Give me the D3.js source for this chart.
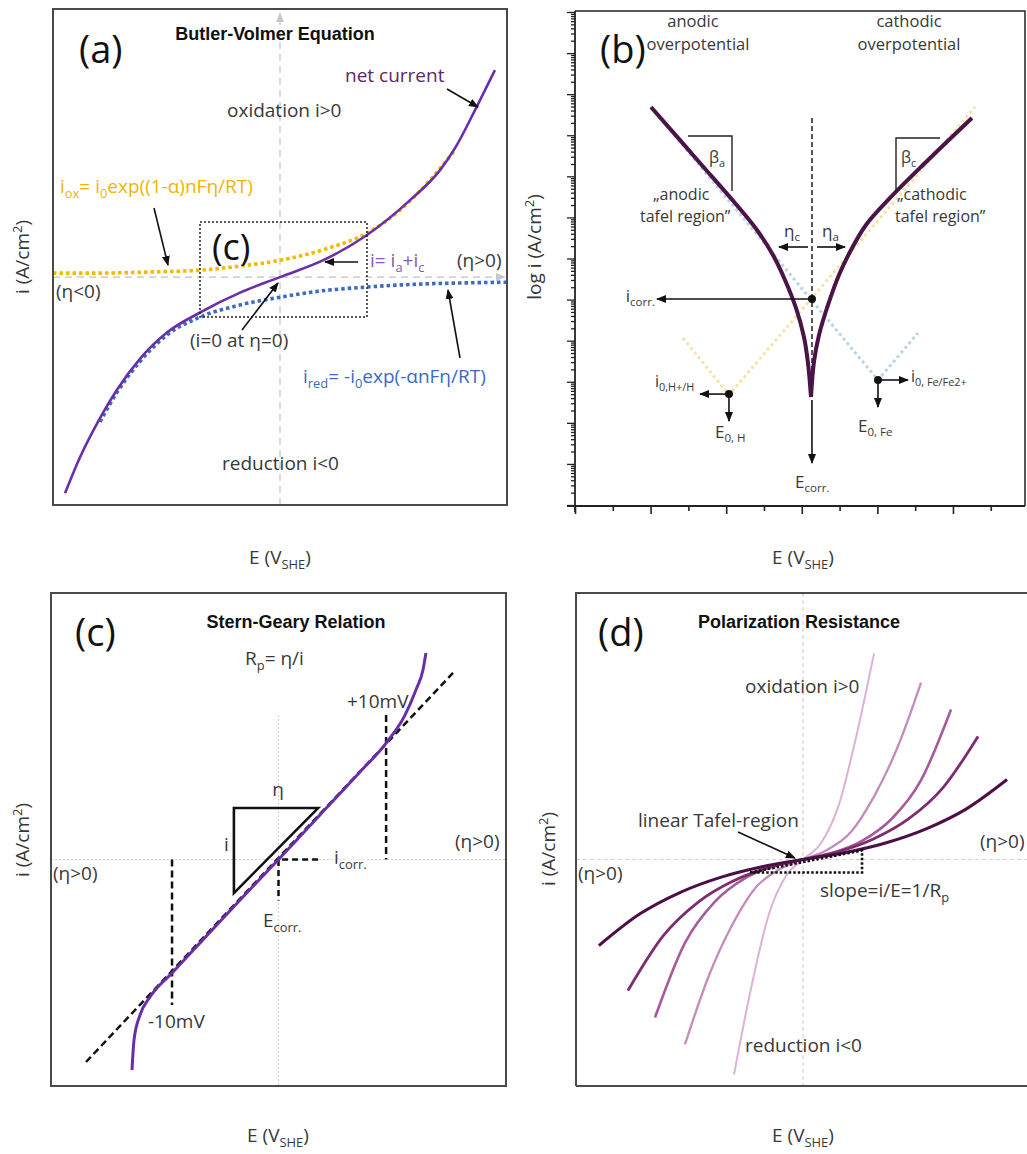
<!DOCTYPE html>
<html><head><meta charset="utf-8">
<script src="https://cdn.jsdelivr.net/npm/d3@7"></script>
<style>
body{margin:0;background:#fff;}
svg text{font-family:"Open Sans","Noto Sans",sans-serif;}
</style></head><body>
<svg id="fig" width="1027" height="1154"></svg>
<script>
// ================= DATA =================
// (a) Butler-Volmer: normalised overpotential E and current i
const aNetE = [-0.947,-0.881,-0.802,-0.718,-0.617,-0.498,-0.352,-0.176,0,0.198,0.383,0.573,0.705,0.771,0.868,0.947];
const aNetI = [-0.806,-0.672,-0.540,-0.420,-0.305,-0.207,-0.132,-0.058,0,0.066,0.157,0.287,0.399,0.481,0.638,0.772];
const aOxE  = [-1,-0.793,-0.573,-0.352,-0.176,0,0.198,0.383,0.529,0.661,0.771];
const aOxI  = [0.015,0.015,0.019,0.026,0.041,0.063,0.104,0.164,0.250,0.362,0.474];
const aRedE = [1,0.793,0.617,0.383,0.176,0,-0.176,-0.352,-0.498,-0.617,-0.718,-0.793];
const aRedI = [-0.019,-0.022,-0.026,-0.037,-0.052,-0.075,-0.104,-0.149,-0.216,-0.315,-0.430,-0.540];

// (b) Tafel plot: E (axis units) and log10 i
const bAnodicE    = [1.005,1.653,2.116,2.407,2.619,2.778,2.923,3.029,3.082,3.122];
const bAnodicLogI = [-2.311,-3.675,-4.649,-5.306,-5.914,-6.523,-7.204,-7.910,-8.543,-9.371];
const bCathodicE    = [5.251,4.630,4.167,3.849,3.651,3.492,3.347,3.228,3.161,3.122];
const bCathodicLogI = [-2.579,-3.675,-4.527,-5.184,-5.793,-6.401,-7.131,-7.862,-8.519,-9.371];
const bHydrogenE    = [1.429,2.037,5.291];
const bHydrogenLogI = [-7.935,-9.322,-2.311];
const bIronE    = [1.058,4.008,4.537];
const bIronLogI = [-2.433,-8.957,-7.813];
const bPointNames = ["corr","H","Fe"];
const bPointE    = [3.135,2.037,4.008];
const bPointLogI = [-6.985,-9.300,-8.957];
const bAxisLogTop = 0, bAxisLogBottom = -12;

// (c) Stern-Geary
const cCurveE = [-0.644,-0.635,-0.609,-0.565,-0.468,-0.345,-0.169,0,0.182,0.358,0.473,0.556,0.604,0.635,0.648];
const cCurveI = [-0.790,-0.677,-0.584,-0.516,-0.426,-0.313,-0.152,0,0.167,0.328,0.437,0.542,0.636,0.711,0.775];
const cTangentE = [-0.846,0.767];
const cTangentI = [-0.760,0.700];
const cPlusMinus10mV = [0.473,-0.468];

// (d) Polarization resistance: five curves (light -> dark)
const d1E = [-0.304,-0.228,-0.152,-0.076,0,0.078,0.156,0.234,0.313];
const d1I = [-0.807,-0.480,-0.210,-0.063,0,0.060,0.200,0.460,0.773];
const d2E = [-0.520,-0.416,-0.312,-0.208,-0.104,0,0.104,0.208,0.312,0.416,0.520];
const d2I = [-0.694,-0.439,-0.246,-0.105,-0.037,0,0.035,0.100,0.235,0.420,0.664];
const d3E = [-0.652,-0.520,-0.390,-0.260,-0.130,0,0.130,0.260,0.390,0.520,0.652];
const d3I = [-0.593,-0.313,-0.160,-0.073,-0.026,0,0.025,0.070,0.152,0.298,0.563];
const d4E = [-0.771,-0.617,-0.463,-0.308,-0.154,0,0.154,0.308,0.463,0.617,0.771];
const d4I = [-0.492,-0.288,-0.161,-0.081,-0.031,0,0.029,0.076,0.151,0.270,0.462];
const d5E = [-0.899,-0.720,-0.540,-0.360,-0.180,0,0.180,0.360,0.540,0.720,0.899];
const d5I = [-0.323,-0.205,-0.123,-0.066,-0.027,0,0.025,0.061,0.114,0.190,0.300];
const dColors = ["#dcb2d6","#c58bbb","#a65c9b","#7d2c70","#4c0f44"];
const dWidths = [2,2.3,2.6,2.8,3];

// ================= DRAWING =================
const svg = d3.select("#fig");
const defs = svg.append("defs");
function marker(id, color, size){
  defs.append("marker").attr("id",id).attr("viewBox","0 0 10 10").attr("refX",9).attr("refY",5)
    .attr("markerWidth",size).attr("markerHeight",size).attr("markerUnits","userSpaceOnUse").attr("orient","auto")
    .append("path").attr("d","M0,1 L10,5 L0,9 z").attr("fill",color);
}
marker("ah","#111",10); marker("ahG","#c8c8c8",10);
const zip = (xs,ys)=>xs.map((x,i)=>[x,ys[i]]).sort((p,q)=>p[0]-q[0]);
const TXT = "#383838";

function rich(g, x, y, parts, o={}){
  const fs = o.size||19;
  const t = g.append("text").attr("x",x).attr("y",y).attr("font-size",fs)
    .attr("fill",o.color||TXT).attr("text-anchor",o.anchor||"start");
  if(o.weight) t.attr("font-weight",o.weight);
  if(o.rotate) t.attr("transform",`rotate(${o.rotate},${x},${y})`);
  if(o.halo) t.attr("stroke","#fff").attr("stroke-width",5).attr("paint-order","stroke");
  let shift=0;
  parts.forEach(p=>{
    const [s,k] = typeof p==="string"?[p,null]:p;
    const target = k==="sub"? fs*0.26 : k==="sup"? -fs*0.38 : 0;
    const ts = t.append("tspan").text(s).attr("dy", target-shift);
    if(k) ts.attr("font-size", fs*0.68);
    shift = target;
  });
  return t;
}
function arrow(g,x1,y1,x2,y2,w=1.6,color="#111",m="ah"){
  g.append("line").attr("x1",x1).attr("y1",y1).attr("x2",x2).attr("y2",y2)
   .attr("stroke",color).attr("stroke-width",w).attr("marker-end",`url(#${m})`);
}
const title = (g,x,y,s)=>g.append("text").attr("x",x).attr("y",y).attr("text-anchor","middle")
  .attr("font-size",18).attr("font-weight","bold").style("font-family","'Liberation Sans',Arial,sans-serif").attr("fill","#111").text(s);
const panelLabel = (g,x,y,s)=>g.append("text").attr("x",x).attr("y",y).attr("font-size",38).attr("fill","#111").text(s);

// ---------------- Panel (a) ----------------
{
  const g = svg.append("g");
  const x = d3.scaleLinear().domain([-1,1]).range([53,507]);
  const y = d3.scaleLinear().domain([-0.85,1]).range([505,9]);
  const line = d3.line().x(d=>x(d[0])).y(d=>y(d[1])).curve(d3.curveMonotoneX);
  g.append("line").attr("x1",x(0)).attr("x2",x(0)).attr("y1",505).attr("y2",13)
    .attr("stroke","#d2d2d2").attr("stroke-width",1.6).attr("stroke-dasharray","7,5").attr("marker-end","url(#ahG)");
  g.append("line").attr("x1",53).attr("x2",505).attr("y1",y(0)).attr("y2",y(0))
    .attr("stroke","#d2d2d2").attr("stroke-width",1.6).attr("stroke-dasharray","7,5").attr("marker-end","url(#ahG)");
  g.append("path").attr("d",line(zip(aOxE,aOxI))).attr("fill","none").attr("stroke","#f3ba00").attr("stroke-width",3.6).attr("stroke-dasharray","3.5,3");
  g.append("path").attr("d",line(zip(aRedE,aRedI))).attr("fill","none").attr("stroke","#3c6cc2").attr("stroke-width",3.6).attr("stroke-dasharray","3.5,3");
  g.append("path").attr("d",line(zip(aNetE,aNetI))).attr("fill","none").attr("stroke","#6a2ea8").attr("stroke-width",2.6);
  g.append("rect").attr("x",200).attr("y",222).attr("width",167).attr("height",95).attr("fill","none")
    .attr("stroke","#222").attr("stroke-width",1.5).attr("stroke-dasharray","2,2");
  g.append("rect").attr("x",53).attr("y",9).attr("width",454).attr("height",496).attr("fill","none").attr("stroke","#4a4a4a").attr("stroke-width",2);
  panelLabel(g,79,63,"(a)");
  title(g,275,40,"Butler-Volmer Equation");
  rich(g,345,82,["net current"],{color:"#5b2a66"});
  arrow(g,447,89,478,107);
  rich(g,227,117,["oxidation i>0"]);
  rich(g,60,193,["i",["ox","sub"],"= i",["0","sub"],"exp((1-α)nFη/RT)"],{color:"#f0b400"});
  arrow(g,154,208,168,265);
  rich(g,212,260,["(c)"],{size:36,color:"#111"});
  rich(g,370,267,["i= i",["a","sub"],"+i",["c","sub"]],{color:"#8a58b4"});
  arrow(g,358,262,325,262);
  rich(g,457,267,["(η>0)"]);
  rich(g,56,298,["(η<0)"]);
  rich(g,190,347,["(i=0 at η=0)"]);
  arrow(g,242,330,278,283);
  rich(g,303,383,["i",["red","sub"],"= -i",["0","sub"],"exp(-αnFη/RT)"],{color:"#3b6bc0"});
  arrow(g,460,358,448,290);
  rich(g,222,470,["reduction i<0"]);
  rich(g,29,257,["i (A/cm",["2","sup"],")"],{anchor:"middle",rotate:-90});
  rich(g,280,564,["E (V",["SHE","sub"],")"],{anchor:"middle"});
}

// ---------------- Panel (b) ----------------
{
  const g = svg.append("g");
  const x = d3.scaleLinear().domain([0,5.9]).range([575,1021]);
  const y = d3.scaleLog().domain([Math.pow(10,bAxisLogBottom),Math.pow(10,bAxisLogTop)]).range([505,12]);
  const lineS = d3.line().x(d=>x(d[0])).y(d=>y(Math.pow(10,d[1])));
  const lineC = d3.line().x(d=>x(d[0])).y(d=>y(Math.pow(10,d[1]))).curve(d3.curveCatmullRom);
  const pairs = (xs,ys)=>xs.map((v,i)=>[v,ys[i]]);
  g.append("path").attr("d","M575,11 H1025 V506").attr("fill","none").attr("stroke","#222").attr("stroke-width",1.5);
  const yt = y.ticks(20);
  const isMajor = t=>Math.abs(Math.log10(t)-Math.round(Math.log10(t)))<1e-6;
  const ya = g.append("g").attr("transform","translate(575,0)").call(d3.axisLeft(y).tickValues(yt).tickFormat(""));
  ya.select(".domain").remove();
  ya.selectAll(".tick line").attr("x2",d=>isMajor(d)?-8:-4).attr("stroke","#222").attr("stroke-width",1.3);
  const xt = d3.range(0,5.75,0.5);
  const xa = g.append("g").attr("transform","translate(0,506)").call(d3.axisBottom(x).tickValues(xt).tickFormat(""));
  xa.select(".domain").remove();
  xa.selectAll(".tick line").attr("y2",d=>Math.abs(d-Math.round(d))<1e-6?8:5).attr("stroke","#222").attr("stroke-width",1.6);
  g.append("line").attr("x1",575).attr("x2",575).attr("y1",11).attr("y2",512).attr("stroke","#222").attr("stroke-width",1.8);
  g.append("line").attr("x1",567).attr("x2",1025).attr("y1",506).attr("y2",506).attr("stroke","#222").attr("stroke-width",1.8);
  g.append("path").attr("d",lineS(pairs(bHydrogenE,bHydrogenLogI))).attr("fill","none").attr("stroke","#f6e4a6").attr("stroke-width",3).attr("stroke-dasharray","3,3");
  g.append("path").attr("d",lineS(pairs(bIronE,bIronLogI))).attr("fill","none").attr("stroke","#bcd4ea").attr("stroke-width",3).attr("stroke-dasharray","3,3");
  const xc = x(bPointE[0]);
  const cuspY = y(Math.pow(10,bAnodicLogI[bAnodicLogI.length-1]));
  g.append("line").attr("x1",xc).attr("x2",xc).attr("y1",y(Math.pow(10,bCathodicLogI[0]))).attr("y2",cuspY)
    .attr("stroke","#111").attr("stroke-width",1.4).attr("stroke-dasharray","5,3");
  g.append("path").attr("d",lineC(pairs(bAnodicE,bAnodicLogI))).attr("fill","none").attr("stroke","#4a1446").attr("stroke-width",4);
  g.append("path").attr("d",lineC(pairs(bCathodicE,bCathodicLogI))).attr("fill","none").attr("stroke","#4a1446").attr("stroke-width",4);
  arrow(g,xc,cuspY+3,xc,463,1.6);
  const P = bPointE.map((e,i)=>({n:bPointNames[i],x:x(e),y:y(Math.pow(10,bPointLogI[i]))}));
  arrow(g,P[0].x,P[0].y,657,P[0].y,1.6);
  arrow(g,P[1].x,P[1].y,P[1].x-29,P[1].y,1.6);
  arrow(g,P[1].x,P[1].y,P[1].x,P[1].y+27,1.6);
  arrow(g,P[2].x,P[2].y,P[2].x+30,P[2].y,1.6);
  arrow(g,P[2].x,P[2].y,P[2].x,P[2].y+27,1.6);
  g.selectAll("circle.pt").data(P).join("circle").attr("cx",d=>d.x).attr("cy",d=>d.y).attr("r",4).attr("fill","#111");
  arrow(g,808,247,779,247,1.6); arrow(g,817,247,845,247,1.6);
  rich(g,784,237,["η",["c","sub"]],{size:17});
  rich(g,822,237,["η",["a","sub"]],{size:17});
  g.append("path").attr("d","M688,136 H732 V191").attr("fill","none").attr("stroke","#222").attr("stroke-width",1.4);
  g.append("path").attr("d","M896,192 V138 H940").attr("fill","none").attr("stroke","#222").attr("stroke-width",1.4);
  rich(g,709,163,["β",["a","sub"]],{size:16});
  rich(g,901,163,["β",["c","sub"]],{size:16});
  panelLabel(g,600,63,"(b)");
  rich(g,693,27,["anodic"],{size:16.5,anchor:"middle"});
  rich(g,698,50,["overpotential"],{size:16.5,anchor:"middle"});
  rich(g,909,27,["cathodic"],{size:16.5,anchor:"middle"});
  rich(g,909,50,["overpotential"],{size:16.5,anchor:"middle"});
  rich(g,653,200,["„anodic"],{size:16});
  rich(g,640,222,["tafel region”"],{size:16});
  rich(g,897,200,["„cathodic"],{size:16});
  rich(g,895,222,["tafel region”"],{size:16});
  rich(g,655,302,["i",["corr.","sub"]],{size:17,anchor:"end"});
  rich(g,655,387,["i",["0,H+/H","sub"]],{size:16});
  rich(g,715,438,["E",["0, H","sub"]],{size:17});
  rich(g,911,382,["i",["0, Fe/Fe2+","sub"]],{size:16});
  rich(g,858,432,["E",["0, Fe","sub"]],{size:17});
  rich(g,795,488,["E",["corr.","sub"]],{size:17});
  rich(g,541,247,["log i (A/cm",["2","sup"],")"],{anchor:"middle",rotate:-90});
  rich(g,803,564,["E (V",["SHE","sub"],")"],{anchor:"middle"});
}

// ---------------- Panel (c) ----------------
{
  const g = svg.append("g");
  const x = d3.scaleLinear().domain([-1,1]).range([51,506]);
  const y = d3.scaleLinear().domain([-0.85,1]).range([1086,593]);
  const line = d3.line().x(d=>x(d[0])).y(d=>y(d[1]));
  g.append("line").attr("x1",x(0)).attr("x2",x(0)).attr("y1",715).attr("y2",1086).attr("stroke","#d4d4d4").attr("stroke-width",1.2).attr("stroke-dasharray","2,2");
  g.append("line").attr("x1",51).attr("x2",506).attr("y1",y(0)).attr("y2",y(0)).attr("stroke","#d4d4d4").attr("stroke-width",1.2).attr("stroke-dasharray","2,2");
  g.append("line").attr("x1",x(cPlusMinus10mV[0])).attr("x2",x(cPlusMinus10mV[0])).attr("y1",715).attr("y2",y(0))
    .attr("stroke","#111").attr("stroke-width",2.5).attr("stroke-dasharray","7,4");
  g.append("line").attr("x1",x(cPlusMinus10mV[1])).attr("x2",x(cPlusMinus10mV[1])).attr("y1",y(0)).attr("y2",1005)
    .attr("stroke","#111").attr("stroke-width",2.5).attr("stroke-dasharray","7,4");
  g.append("path").attr("d",line(zip(cTangentE,cTangentI))).attr("stroke","#111").attr("stroke-width",2.5).attr("stroke-dasharray","7,4").attr("fill","none");
  g.append("path").attr("d",`M${x(-0.196)},${y(0.193)} H${x(0.174)} L${x(-0.196)},${y(-0.126)} Z`)
    .attr("fill","none").attr("stroke","#111").attr("stroke-width",2.6);
  g.append("path").attr("d",`M${x(0.174)},${y(0)} H${x(0)} V${y(-0.154)}`).attr("fill","none")
    .attr("stroke","#111").attr("stroke-width",2.5).attr("stroke-dasharray","6,4");
  g.append("path").attr("d",line.curve(d3.curveMonotoneX)(zip(cCurveE,cCurveI))).attr("fill","none").attr("stroke","#6a2ea8").attr("stroke-width",3);
  g.append("rect").attr("x",51).attr("y",593).attr("width",455).attr("height",493).attr("fill","none").attr("stroke","#4a4a4a").attr("stroke-width",2);
  panelLabel(g,75,646,"(c)");
  title(g,296,628,"Stern-Geary Relation");
  rich(g,245,665,["R",["p","sub"],"= η/i"]);
  rich(g,347,708,["+10mV"]);
  rich(g,278,796,["η"],{anchor:"middle"});
  rich(g,224,851,["i"]);
  rich(g,334,864,["i",["corr.","sub"]],{halo:true});
  rich(g,263,927,["E",["corr.","sub"]]);
  rich(g,455,848,["(η>0)"],{halo:true});
  rich(g,53,880,["(η>0)"]);
  rich(g,148,1028,["-10mV"]);
  rich(g,29,840,["i (A/cm",["2","sup"],")"],{anchor:"middle",rotate:-90});
  rich(g,278,1142,["E (V",["SHE","sub"],")"],{anchor:"middle"});
}

// ---------------- Panel (d) ----------------
{
  const g = svg.append("g");
  const x = d3.scaleLinear().domain([-1,1]).range([576,1030]);
  const y = d3.scaleLinear().domain([-0.85,1]).range([1086,593]);
  const line = d3.line().x(d=>x(d[0])).y(d=>y(d[1])).curve(d3.curveMonotoneX);
  g.append("line").attr("x1",x(0)).attr("x2",x(0)).attr("y1",593).attr("y2",1086).attr("stroke","#d4d4d4").attr("stroke-width",1.2).attr("stroke-dasharray","4,3");
  g.append("line").attr("x1",576).attr("x2",1030).attr("y1",y(0)).attr("y2",y(0)).attr("stroke","#d4d4d4").attr("stroke-width",1.2).attr("stroke-dasharray","4,3");
  const curves = [zip(d1E,d1I),zip(d2E,d2I),zip(d3E,d3I),zip(d4E,d4I),zip(d5E,d5I)];
  g.selectAll("path.c").data(curves).join("path").attr("d",line).attr("fill","none")
    .attr("stroke",(d,i)=>dColors[i]).attr("stroke-width",(d,i)=>dWidths[i]);
  g.append("path").attr("d",`M${x(-0.233)},${y(-0.049)} L${x(0.26)},${y(0.034)} V${y(-0.049)} Z`).attr("fill","none")
    .attr("stroke","#111").attr("stroke-width",2.6).attr("stroke-dasharray","2.5,2");
  g.append("path").attr("d","M576,1086 V593 H1030").attr("fill","none").attr("stroke","#4a4a4a").attr("stroke-width",2);
  g.append("line").attr("x1",576).attr("x2",1030).attr("y1",1086).attr("y2",1086).attr("stroke","#4a4a4a").attr("stroke-width",2);
  panelLabel(g,598,646,"(d)");
  title(g,799,628,"Polarization Resistance");
  rich(g,745,693,["oxidation i>0"]);
  rich(g,638,827,["linear Tafel-region"]);
  arrow(g,738,832,795,858);
  rich(g,980,848,["(η>0)"]);
  rich(g,578,880,["(η>0)"]);
  rich(g,820,897,["slope=i/E=1/R",["p","sub"]]);
  rich(g,745,1052,["reduction i<0"]);
  rich(g,555,849,["i (A/cm",["2","sup"],")"],{anchor:"middle",rotate:-90});
  rich(g,803,1142,["E (V",["SHE","sub"],")"],{anchor:"middle"});
}
</script>
</body></html>
